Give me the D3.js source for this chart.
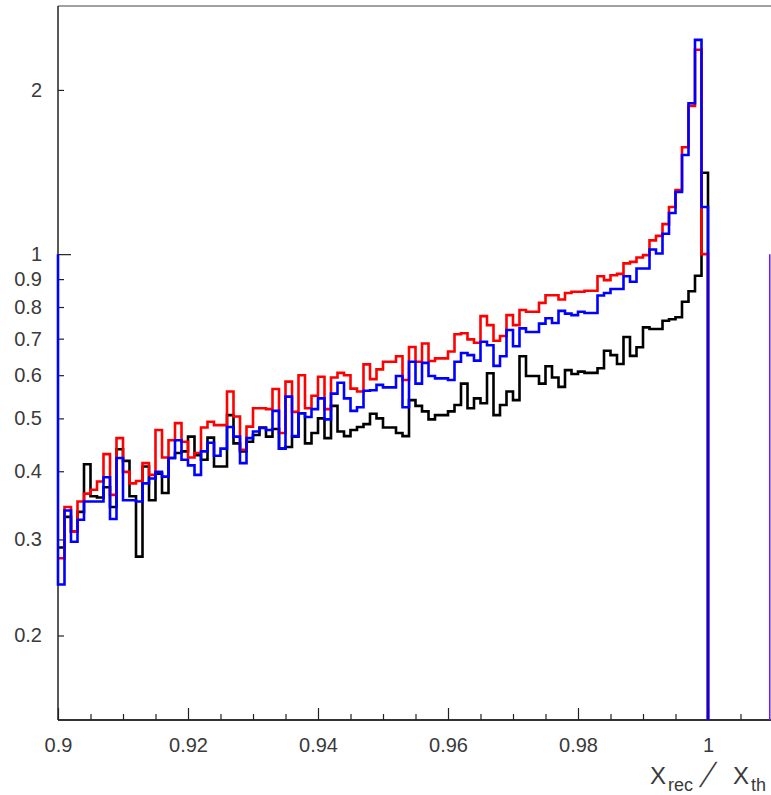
<!DOCTYPE html>
<html>
<head>
<meta charset="utf-8">
<script src="https://cdn.jsdelivr.net/npm/d3@7"></script>
<style>
  html, body { margin: 0; padding: 0; background: #fff; }
  svg { display: block; }
</style>
</head>
<body>
<script>
// Histogram binning: 100 bins of width 0.001 starting at 0.9
const binStart = 0.9;
const binWidth = 0.001;

const redValues = [
  0.277, 0.344, 0.31, 0.352, 0.364, 0.37, 0.383, 0.43, 0.362, 0.46,
  0.399, 0.38, 0.384, 0.414, 0.394, 0.476, 0.424, 0.456, 0.49, 0.453,
  0.424, 0.432, 0.481, 0.493, 0.486, 0.486, 0.56, 0.504, 0.438, 0.483,
  0.522, 0.522, 0.52, 0.566, 0.47, 0.584, 0.514, 0.60, 0.522, 0.55,
  0.596, 0.52, 0.594, 0.606, 0.60, 0.567, 0.56, 0.628, 0.59, 0.615,
  0.635, 0.635, 0.65, 0.588, 0.676, 0.635, 0.686, 0.637, 0.644, 0.644,
  0.663, 0.713, 0.716, 0.698, 0.688, 0.77, 0.741, 0.694, 0.708, 0.773,
  0.741, 0.79, 0.784, 0.784, 0.814, 0.841, 0.841, 0.826, 0.849, 0.853,
  0.853, 0.857, 0.857, 0.911, 0.896, 0.915, 0.92, 0.962, 0.968, 0.986,
  0.996, 1.06, 1.08, 1.135, 1.22, 1.31, 1.57, 1.87, 2.37, 1.0
];

const blueValues = [
  0.248, 0.339, 0.297, 0.326, 0.352, 0.352, 0.352, 0.39, 0.327, 0.423,
  0.354, 0.354, 0.352, 0.38, 0.388, 0.399, 0.391, 0.423, 0.456, 0.42,
  0.41, 0.394, 0.435, 0.451, 0.427, 0.44, 0.482, 0.463, 0.414, 0.46,
  0.473, 0.48, 0.476, 0.516, 0.44, 0.548, 0.464, 0.511, 0.503, 0.52,
  0.544, 0.498, 0.555, 0.581, 0.544, 0.516, 0.524, 0.562, 0.563, 0.576,
  0.57, 0.57, 0.598, 0.524, 0.635, 0.579, 0.632, 0.598, 0.592, 0.592,
  0.588, 0.635, 0.659, 0.653, 0.638, 0.691, 0.681, 0.624, 0.65, 0.726,
  0.678, 0.731, 0.72, 0.72, 0.746, 0.763, 0.748, 0.787, 0.778, 0.773,
  0.784, 0.78, 0.78, 0.84, 0.849, 0.863, 0.863, 0.911, 0.89, 0.941,
  0.941, 1.02, 1.003, 1.09, 1.19, 1.30, 1.52, 1.89, 2.47, 1.22
];

const blackValues = [
  0.29, 0.33, 0.31, 0.337, 0.412, 0.36, 0.358, 0.374, 0.344, 0.439,
  0.418, 0.36, 0.279, 0.408, 0.354, 0.396, 0.365, 0.423, 0.432, 0.435,
  0.463, 0.428, 0.42, 0.461, 0.408, 0.408, 0.507, 0.45, 0.435, 0.453,
  0.466, 0.481, 0.463, 0.478, 0.44, 0.443, 0.463, 0.511, 0.45, 0.47,
  0.50, 0.46, 0.527, 0.473, 0.464, 0.476, 0.482, 0.488, 0.51, 0.50,
  0.481, 0.481, 0.47, 0.464, 0.54, 0.527, 0.515, 0.498, 0.507, 0.507,
  0.515, 0.529, 0.579, 0.522, 0.544, 0.533, 0.605, 0.507, 0.529, 0.56,
  0.54, 0.65, 0.598, 0.598, 0.579, 0.623, 0.594, 0.571, 0.613, 0.603,
  0.609, 0.606, 0.606, 0.618, 0.665, 0.653, 0.629, 0.705, 0.651, 0.675,
  0.734, 0.729, 0.729, 0.755, 0.76, 0.766, 0.818, 0.855, 0.913, 1.41
];

// Reference level drawn as vertical edges (left in blue, right in purple)
const unitLevel = 1;
const rightEdgeX = 1.0095;

const xMajorTicks = [0.9, 0.92, 0.94, 0.96, 0.98, 1.0];
const xTickLabels = ["0.9", "0.92", "0.94", "0.96", "0.98", "1"];
const xMinorTicks = [0.905, 0.91, 0.915, 0.925, 0.93, 0.935, 0.945, 0.95, 0.955,
                     0.965, 0.97, 0.975, 0.985, 0.99, 0.995, 1.005];
const yMajorTicks = [1];
const yMinorTicks = [0.2, 0.3, 0.4, 0.5, 0.6, 0.7, 0.8, 0.9, 2];
const yTickLabels = {0.2: "0.2", 0.3: "0.3", 0.4: "0.4", 0.5: "0.5", 0.6: "0.6",
                     0.7: "0.7", 0.8: "0.8", 0.9: "0.9", 1: "1", 2: "2"};

const W = 771, H = 795;
const padLeft = 58, padBottom = 720, padTop = 6;
const fontFamily = "'Liberation Sans', Arial, sans-serif";
const textColor = "#3a3a3a";
const labelSize = 20;

const svg = d3.select("body").append("svg")
  .attr("width", W).attr("height", H)
  .style("font-family", fontFamily);

const x = d3.scaleLinear().domain([0.9, 1.01]).range([padLeft, 773]);
const y = d3.scaleLog().domain([0.14, 2.85]).range([padBottom, padTop]);
const yMin = y.domain()[0];

function histPoints(values, startLevel) {
  const pts = [];
  if (startLevel !== undefined) pts.push([binStart, startLevel]);
  values.forEach((v, i) => pts.push([binStart + i * binWidth, v]));
  const end = binStart + values.length * binWidth;
  pts.push([end, values[values.length - 1]]);
  pts.push([end, yMin]);
  return pts;
}

const line = d3.line()
  .x(d => x(d[0]))
  .y(d => y(d[1]))
  .curve(d3.curveStepAfter);

// Frame: top edge, left and bottom axis lines
svg.append("line").attr("x1", padLeft).attr("x2", W).attr("y1", padTop).attr("y2", padTop)
  .attr("stroke", "#444").attr("stroke-width", 1.2);
svg.append("line").attr("x1", padLeft).attr("x2", padLeft).attr("y1", padTop).attr("y2", padBottom)
  .attr("stroke", "#222").attr("stroke-width", 1.5);
svg.append("line").attr("x1", padLeft).attr("x2", W).attr("y1", padBottom).attr("y2", padBottom)
  .attr("stroke", "#333").attr("stroke-width", 2);

// X axis
const xAxisG = svg.append("g").attr("transform", `translate(0,${padBottom})`);
xAxisG.append("g")
  .call(d3.axisBottom(x).tickValues(xMinorTicks).tickSizeInner(-6).tickSizeOuter(0).tickFormat(""))
  .call(g => g.select(".domain").remove());
xAxisG.append("g")
  .call(d3.axisBottom(x).tickValues(xMajorTicks).tickSizeInner(-12).tickSizeOuter(0)
        .tickFormat((d, i) => xTickLabels[i]))
  .call(g => g.select(".domain").remove())
  .call(g => g.selectAll("text").attr("y", 32).attr("dy", null)
        .attr("font-size", labelSize).attr("fill", textColor).style("font-family", fontFamily));
xAxisG.selectAll(".tick line").attr("stroke", "#222").attr("stroke-width", 1.2);

// Y axis
const yAxisG = svg.append("g").attr("transform", `translate(${padLeft},0)`);
yAxisG.append("g")
  .call(d3.axisLeft(y).tickValues(yMinorTicks).tickSizeInner(-6).tickSizeOuter(0)
        .tickPadding(16).tickFormat(d => yTickLabels[d]))
  .call(g => g.select(".domain").remove());
yAxisG.append("g")
  .call(d3.axisLeft(y).tickValues(yMajorTicks).tickSizeInner(-13).tickSizeOuter(0)
        .tickPadding(16).tickFormat(d => yTickLabels[d]))
  .call(g => g.select(".domain").remove());
yAxisG.selectAll("text").attr("font-size", labelSize).attr("fill", textColor)
  .style("font-family", fontFamily);
yAxisG.selectAll(".tick line").attr("stroke", "#222").attr("stroke-width", 1.2);

// Histograms
const plot = svg.append("g");
plot.append("path").datum(histPoints(blackValues))
  .attr("d", line).attr("fill", "none").attr("stroke", "#000").attr("stroke-width", 2.6);
plot.append("path").datum(histPoints(redValues))
  .attr("d", line).attr("fill", "none").attr("stroke", "#ff0000").attr("stroke-width", 2.6);
plot.append("path").datum(histPoints(blueValues, unitLevel))
  .attr("d", line).attr("fill", "none").attr("stroke", "#0000ff").attr("stroke-width", 2.6);

// Purple edge on the right at the unit level
plot.append("path").datum([[rightEdgeX, unitLevel], [rightEdgeX, yMin]])
  .attr("d", line).attr("fill", "none").attr("stroke", "#6a28c8").attr("stroke-width", 1.6);

// Axis title: X_rec / X_th
const title = svg.append("text").attr("fill", textColor).style("font-family", fontFamily);
title.append("tspan").attr("x", 650).attr("y", 784).attr("font-size", 24).text("X");
title.append("tspan").attr("x", 668).attr("y", 791).attr("font-size", 18).text("rec");
title.append("tspan").attr("x", 733).attr("y", 784).attr("font-size", 24).text("X");
title.append("tspan").attr("x", 751).attr("y", 791).attr("font-size", 18).text("th");
svg.append("text").attr("fill", textColor).style("font-family", fontFamily)
  .attr("transform", "translate(699,787) skewX(-25) scale(1,1.45)")
  .attr("font-size", 24).text("/");
</script>
</body>
</html>
